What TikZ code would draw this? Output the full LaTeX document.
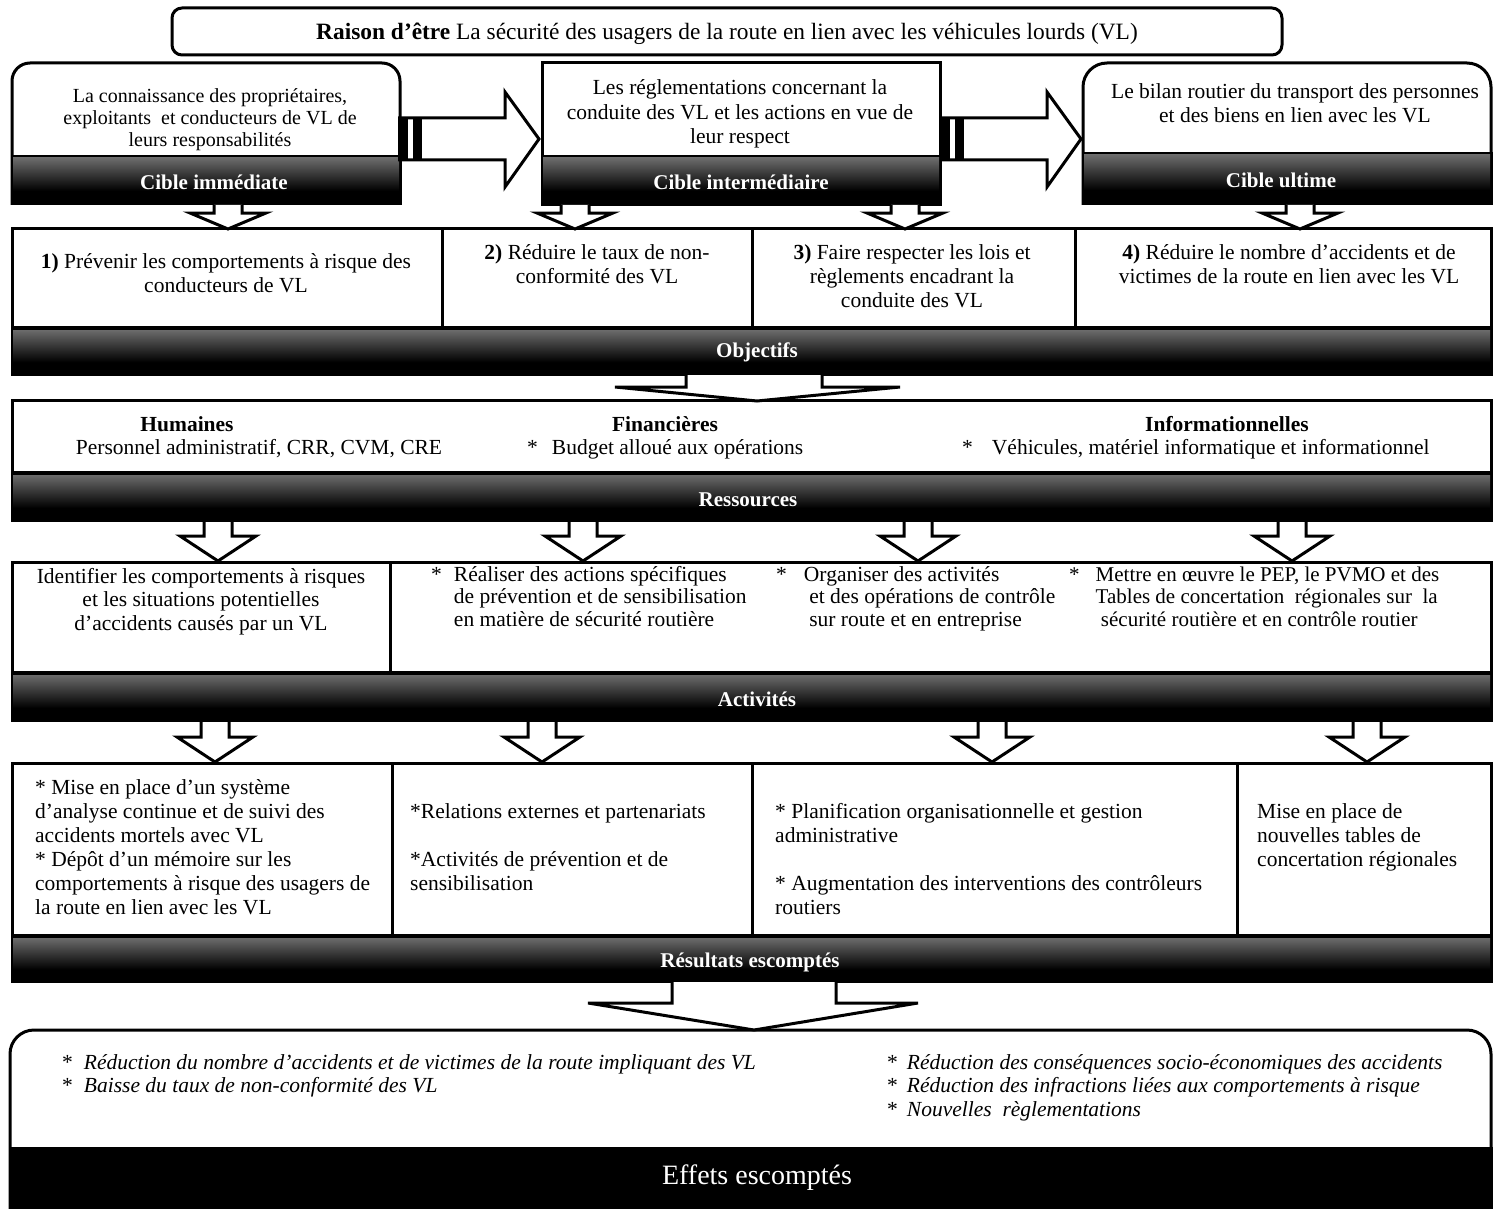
\documentclass[tikz,border=0pt]{standalone}
\usepackage{fontspec}
\setmainfont{Liberation Serif}
\newcommand\dnarrow[4]{\filldraw[blk] ({#1-14},#2) -- ({#1-14},#3) -- ({#1-38},#3) -- (#1,#4) -- ({#1+38},#3) -- ({#1+14},#3) -- ({#1+14},#2);}
\newcommand\bandfill[4]{\fill[black] ({#1-1.5},#2) rectangle ({#3+1.5},#4);
  \shade[top color=black!58, bottom color=black] ({#1+1},{#2+3}) rectangle ({#3-1},{#2+0.72*(#4-#2)});}
\newcommand\mlines[2]{\begin{tabular}[t]{@{}#1@{}}#2\end{tabular}}
\newcommand\ust{{\upshape *}}
\begin{document}
\begin{tikzpicture}[x=1pt,y=-1pt,line join=miter,
  box/.style={draw=black, line width=3pt, fill=white},
  blk/.style={draw=black, fill=white, line width=3pt},
  txt/.style={inner sep=0pt, anchor=base, font=\fontsize{21.5}{24}\selectfont},
  ltxt/.style={inner sep=0pt, anchor=base west, font=\fontsize{21.5}{24}\selectfont},
  itxt/.style={inner sep=0pt, anchor=base west, font=\itshape\fontsize{21.5}{23.5}\selectfont},
  bandlbl/.style={inner sep=0pt, text=white, font=\bfseries\fontsize{21}{24}\selectfont}]
\useasboundingbox (0,0) rectangle (1493,1209);
\fill[white] (0,0) rectangle (1493,1209);

% ---------- Raison d'etre
\draw[box, rounded corners=10pt] (172,8) rectangle (1282,55);
\node[txt, font=\fontsize{23.4}{26}\selectfont] (raison) at (727,40) {\textbf{Raison d'être} La sécurité des usagers de la route en lien avec les véhicules lourds (VL)};

% ---------- Cibles
\fill[white, rounded corners=18pt] (12,205) -- (12,63) -- (400,63) -- (400,205);
\draw[line width=3pt, rounded corners=18pt] (12,205) -- (12,63) -- (400,63) -- (400,205);
\bandfill{12}{155}{400}{205}
\draw[box] (542,63) rectangle (940,205);
\bandfill{542}{155}{940}{205}
\fill[white, rounded corners=24pt] (1083,205) -- (1083,63) -- (1491,63) -- (1491,205);
\draw[line width=3pt, rounded corners=24pt] (1083,205) -- (1083,63) -- (1491,63) -- (1491,205);
\bandfill{1083}{152}{1491}{205}

\node[txt, font=\fontsize{20}{22}\selectfont] (cimm) at (210,103) {\mlines{c}{La connaissance des propriétaires,\\exploitants\ \ et conducteurs de VL de\\leurs responsabilités}};
\node[txt, font=\fontsize{21.5}{24.5}\selectfont] (cint) at (740,95) {\mlines{c}{Les réglementations concernant la\\conduite des VL et les actions en vue de\\leur respect}};
\node[txt] (cult) at (1295,99) {\mlines{c}{Le bilan routier du transport des personnes\\et des biens en lien avec les VL}};
\node[bandlbl] (limm) at (214,182) {Cible immédiate};
\node[bandlbl] (lint) at (741,182) {Cible intermédiaire};
\node[bandlbl] (lult) at (1281,180) {Cible ultime};

% horizontal block arrows
\filldraw[blk] (398,118) -- (505,118) -- (505,92) -- (539,139) -- (505,187) -- (505,160) -- (398,160);
\fill[black] (398,118) rectangle (408,160);
\fill[black] (413,118) rectangle (422,160);
\filldraw[blk] (940,118) -- (1047,118) -- (1047,92) -- (1081,139) -- (1047,187) -- (1047,160) -- (940,160);
\fill[black] (940,118) rectangle (950,160);
\fill[black] (955,118) rectangle (964,160);

% ---------- Objectifs
\draw[box] (12,228) rectangle (442,327);
\draw[box] (442,228) rectangle (752,327);
\draw[box] (752,228) rectangle (1075,327);
\draw[box] (1075,228) rectangle (1491,327);
\bandfill{12}{327}{1491}{376}
\node[bandlbl] (lobj) at (757,352) {Objectifs};
\node[txt] (o1) at (226,268) {\mlines{c}{\textbf{1)} Prévenir les comportements à risque des\\conducteurs de VL}};
\node[txt] (o2) at (597,259) {\mlines{c}{\textbf{2)} Réduire le taux de non-\\conformité des VL}};
\node[txt] (o3) at (912,259) {\mlines{c}{\textbf{3)} Faire respecter les lois et\\règlements encadrant la\\conduite des VL}};
\node[txt] (o4) at (1289,259) {\mlines{c}{\textbf{4)} Réduire le nombre d'accidents et de\\victimes de la route en lien avec les VL}};

\dnarrow{228}{205}{213}{229}
\dnarrow{575}{205}{213}{229}
\dnarrow{905}{205}{213}{229}
\dnarrow{1300}{205}{213}{229}

% ---------- Ressources
\draw[box] (12,400) rectangle (1491,472);
\bandfill{12}{472}{1491}{522}
\node[bandlbl] (lres) at (748,500) {Ressources};
\filldraw[blk] (686,375) -- (686,387) -- (615,387) -- (757,401) -- (900,387) -- (822,387) -- (822,375);
\node[txt] (hum) at (187,431) {\textbf{Humaines}};
\node[txt] (hum2) at (259,454) {Personnel administratif, CRR, CVM, CRE};
\node[txt] (fin) at (665,431) {\textbf{Financières}};
\node[ltxt] (fin2) at (527,454) {*\hspace{14pt}Budget alloué aux opérations};
\node[txt] (inf) at (1227,431) {\textbf{Informationnelles}};
\node[ltxt] (inf2) at (962,454) {*\hspace{19pt}Véhicules, matériel informatique et informationnel};

\dnarrow{218}{522}{536}{561}
\dnarrow{583}{522}{536}{561}
\dnarrow{918}{522}{536}{561}
\dnarrow{1292}{522}{536}{561}

% ---------- Activites
\draw[box] (12,562) rectangle (390,672);
\draw[box] (390,562) rectangle (1491,672);
\bandfill{12}{672}{1491}{722}
\node[bandlbl] (lact) at (757,699) {Activités};
\node[txt, font=\fontsize{21.5}{23.5}\selectfont] (a1) at (201,583) {\mlines{c}{Identifier les comportements à risques\\et les situations potentielles\\d'accidents causés par un VL}};
\node[ltxt, font=\fontsize{21.5}{22.5}\selectfont] (a2) at (431,581) {\begin{tabular}[t]{@{}l@{\hspace{12pt}}l@{}}*&Réaliser des actions spécifiques\\&de prévention et de sensibilisation\\&en matière de sécurité routière\end{tabular}};
\node[ltxt, font=\fontsize{21.5}{22.5}\selectfont] (a3) at (776,581) {\begin{tabular}[t]{@{}l@{\hspace{17pt}}l@{}}*&Organiser des activités\\&\ et des opérations de contrôle\\&\ sur route et en entreprise\end{tabular}};
\node[ltxt, font=\fontsize{21}{22.5}\selectfont] (a4) at (1069,581) {\begin{tabular}[t]{@{}l@{\hspace{16pt}}l@{}}*&Mettre en œuvre le PEP, le PVMO et des\\&Tables de concertation\ \ régionales sur\ \ la\\&\ sécurité routière et en contrôle routier\end{tabular}};

\dnarrow{215}{722}{737}{762}
\dnarrow{542}{722}{737}{762}
\dnarrow{992}{722}{737}{762}
\dnarrow{1367}{722}{737}{762}

% ---------- Resultats
\draw[box] (12,763) rectangle (392,935);
\draw[box] (392,763) rectangle (752,935);
\draw[box] (752,763) rectangle (1237,935);
\draw[box] (1237,763) rectangle (1491,935);
\bandfill{12}{935}{1491}{983}
\node[bandlbl] (lrsl) at (750,962) {Résultats escomptés};
\node[ltxt] (r1) at (35,794) {\mlines{l}{{*} Mise en place d'un système\\d'analyse continue et de suivi des\\accidents mortels avec VL\\{*} Dépôt d'un mémoire sur les\\comportements à risque des usagers de\\la route en lien avec les VL}};
\node[ltxt] (r2) at (410,818) {\mlines{l}{{*}Relations externes et partenariats\\{}\\{*}Activités de prévention et de\\sensibilisation}};
\node[ltxt] (r3) at (775,818) {\mlines{l}{{*} Planification organisationnelle et gestion\\administrative\\{}\\{*} Augmentation des interventions des contrôleurs\\routiers}};
\node[ltxt] (r4) at (1257,818) {\mlines{l}{Mise en place de\\nouvelles tables de\\concertation régionales}};

% ---------- Effets
\fill[white, rounded corners=24pt] (10,1212) -- (10,1030) -- (1491,1030) -- (1491,1212);
\draw[line width=3pt, rounded corners=24pt] (10,1212) -- (10,1030) -- (1491,1030) -- (1491,1212);
\fill[black] (8.5,1147) rectangle (1492.5,1212);
\node[inner sep=0pt, text=white, font=\fontsize{28}{32}\selectfont] (leff) at (757,1178) {Effets escomptés};
\filldraw[blk] (672,982) -- (672,1003) -- (588,1003) -- (754,1030) -- (918,1003) -- (836,1003) -- (836,982);
\node[itxt] (e1) at (62,1069) {\begin{tabular}[t]{@{}l@{\hspace{11pt}}l@{}}\ust&Réduction du nombre d'accidents et de victimes de la route impliquant des VL\\\ust&Baisse du taux de non-conformité des VL\end{tabular}};
\node[itxt] (e2) at (887,1069) {\begin{tabular}[t]{@{}l@{\hspace{9pt}}l@{}}\ust&Réduction des conséquences socio-économiques des accidents\\\ust&Réduction des infractions liées aux comportements à risque\\\ust&Nouvelles\ \ règlementations\end{tabular}};
\end{tikzpicture}
\end{document}
